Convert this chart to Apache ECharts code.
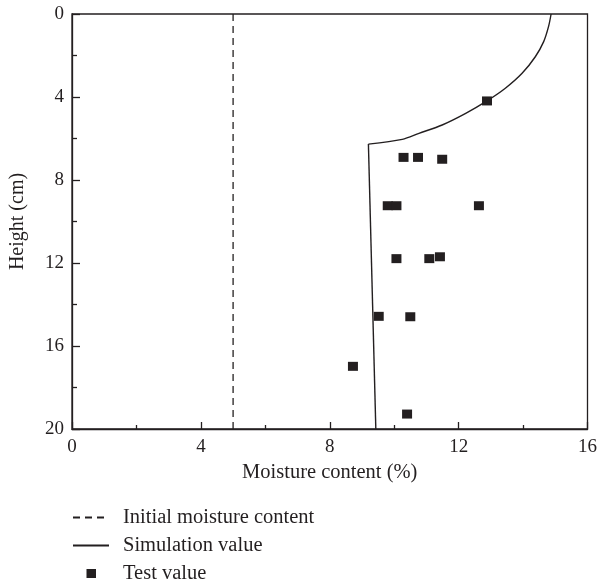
<!DOCTYPE html>
<html>
<head>
<meta charset="utf-8">
<script src="https://cdn.jsdelivr.net/npm/echarts@6/dist/echarts.min.js"></script>
<style>
  html, body { margin: 0; padding: 0; background: #fff; }
  #chart { width: 600px; height: 584px; }
</style>
</head>
<body>
<div id="chart"></div>
<script>
// Initial moisture content (%), constant over the column height (cm)
const initialMoisture = [[5, 0], [5, 20]];

// Simulated moisture profile: upper wetting curve [moisture %, height cm]
const simulationUpper = [
  [14.87, 0], [14.79, 0.61], [14.64, 1.33], [14.38, 2.06], [13.97, 2.86],
  [13.45, 3.58], [12.88, 4.19], [12.22, 4.79], [11.49, 5.35], [10.77, 5.75],
  [10.25, 6.04], [9.20, 6.27]
];
// Simulated moisture profile: lower nearly-uniform part
const simulationLower = [[9.20, 6.27], [9.43, 20]];

// Measured moisture content [moisture %, height cm]
const testValues = [
  [12.88, 4.19],
  [10.29, 6.91], [10.74, 6.91], [11.49, 7.00],
  [9.80, 9.24], [10.07, 9.24], [12.63, 9.24],
  [10.07, 11.79], [11.09, 11.79], [11.42, 11.70],
  [9.52, 14.57], [10.50, 14.59],
  [8.72, 16.98],
  [10.40, 19.28]
];

const xTicks = { min: 0, max: 16, interval: 4 };
const yTicks = { min: 0, max: 20, interval: 4 };

const ink = '#231f20';
const serif = '"Liberation Serif", "DejaVu Serif", serif';

// Legend key for the measured points: a small square centred in the 36x9 key box
// (the two empty sub-paths pin the path's bounds to the full box).
const squareKey = 'path://M0,0L0,0ZM36,9L36,9ZM13.5,0h9.5v9h-9.5Z';

const chart = echarts.init(document.getElementById('chart'), null, { renderer: 'canvas' });

chart.setOption({
  animation: false,
  backgroundColor: '#fff',
  textStyle: { fontFamily: serif, color: ink },
  grid: {
    left: 72, top: 14, right: 11, bottom: 155,
    show: true, borderColor: ink, borderWidth: 1.3, backgroundColor: 'transparent'
  },
  xAxis: {
    type: 'value',
    position: 'bottom',
    min: xTicks.min, max: xTicks.max, interval: xTicks.interval,
    name: 'Moisture content (%)',
    nameLocation: 'middle',
    nameGap: 29,
    nameTextStyle: { fontFamily: serif, fontSize: 20.5, color: ink },
    axisLine: { show: true, onZero: false, lineStyle: { color: ink, width: 1.3 } },
    axisTick: { show: true, inside: true, length: 7, lineStyle: { color: ink, width: 1.3 } },
    minorTick: { show: true, splitNumber: 2, length: 4, lineStyle: { color: ink, width: 1.3 } },
    axisLabel: { fontFamily: serif, fontSize: 19, color: ink, margin: 9 },
    splitLine: { show: false }
  },
  yAxis: {
    type: 'value',
    position: 'left',
    inverse: true,
    min: yTicks.min, max: yTicks.max, interval: yTicks.interval,
    name: 'Height (cm)',
    nameLocation: 'middle',
    nameGap: 44,
    nameTextStyle: { fontFamily: serif, fontSize: 20, color: ink },
    axisLine: { show: true, onZero: false, lineStyle: { color: ink, width: 1.3 } },
    axisTick: { show: true, inside: true, length: 8, lineStyle: { color: ink, width: 1.3 } },
    minorTick: { show: true, splitNumber: 2, length: 5, lineStyle: { color: ink, width: 1.3 } },
    axisLabel: { fontFamily: serif, fontSize: 19, color: ink, margin: 8 },
    splitLine: { show: false }
  },
  legend: {
    orient: 'vertical',
    left: 72,
    top: 507,
    itemWidth: 36,
    itemHeight: 9,
    itemGap: 7,
    padding: 0,
    selectedMode: false,
    textStyle: { fontFamily: serif, fontSize: 20.5, color: ink, padding: [0, 0, 0, 9] },
    data: [
      { name: 'Initial moisture content' },
      { name: 'Simulation value' },
      { name: 'Test value', icon: squareKey, itemStyle: { color: ink } }
    ]
  },
  series: [
    {
      name: 'Initial moisture content',
      type: 'line',
      data: initialMoisture,
      symbol: 'none',
      lineStyle: { color: ink, width: 1.3, type: [7, 5] },
      itemStyle: { color: 'rgba(0,0,0,0)' },
      z: 2
    },
    {
      name: 'Simulation value',
      type: 'line',
      data: simulationUpper,
      symbol: 'none',
      smooth: 0.3,
      lineStyle: { color: ink, width: 1.4 },
      itemStyle: { color: 'rgba(0,0,0,0)' },
      z: 2
    },
    {
      name: 'Simulation value',
      type: 'line',
      data: simulationLower,
      symbol: 'none',
      lineStyle: { color: ink, width: 1.4 },
      itemStyle: { color: 'rgba(0,0,0,0)' },
      z: 2
    },
    {
      name: 'Test value',
      type: 'scatter',
      data: testValues,
      symbol: 'rect',
      symbolSize: [10, 9],
      itemStyle: { color: ink, opacity: 1 },
      z: 3
    }
  ]
});
</script>
</body>
</html>
